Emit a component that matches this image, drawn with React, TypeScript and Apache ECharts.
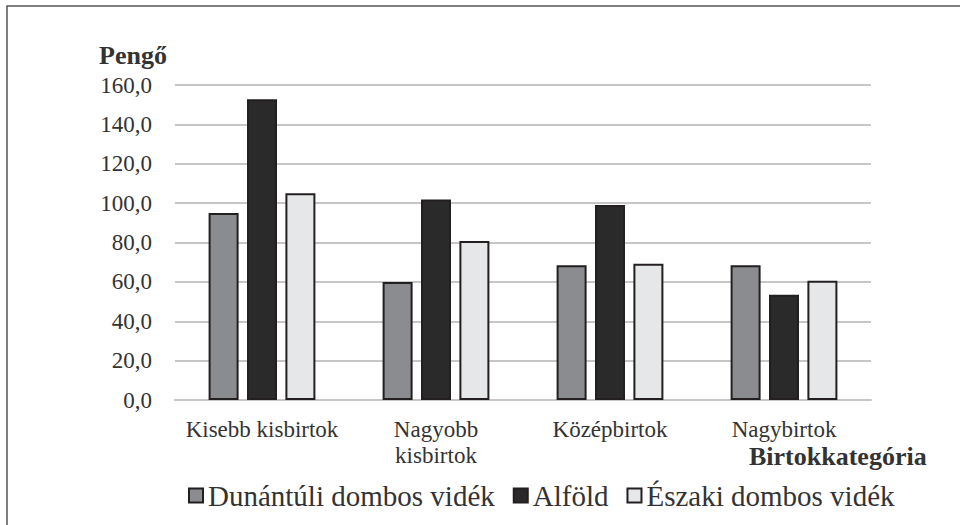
import React, { useEffect, useRef } from "react";
import * as echarts from "echarts";

const categories = ["Kisebb kisbirtok", "Nagyobb\nkisbirtok", "Középbirtok", "Nagybirtok"];
const seriesNames = ["Dunántúli dombos vidék", "Alföld", "Északi dombos vidék"];
const dunantuli = [95.0, 60.0, 68.5, 68.5];
const alfold = [152.8, 101.8, 99.0, 53.5];
const eszaki = [105.0, 80.8, 69.2, 60.6];
const seriesColors = ["#8b8c8f", "#2b2a2b", "#e6e7e9"];
const yTicks = { min: 0, max: 160, interval: 20 };
const yAxisTitle = "Pengő";
const xAxisTitle = "Birtokkategória";

const FONT = "Liberation Serif";

export default function App() {
  const ref = useRef<HTMLDivElement>(null);
  useEffect(() => {
    document.body.style.margin = "0";
    if (!ref.current) return;
    const chart = echarts.init(ref.current, null, { renderer: "svg" });
    const values = [dunantuli, alfold, eszaki];
    chart.setOption({
      animation: false,
      backgroundColor: "#ffffff",
      textStyle: { fontFamily: FONT },
      grid: { left: 175, right: 89, top: 85, bottom: 125, containLabel: false },
      legend: {
        left: 183,
        top: 476,
        itemWidth: 14,
        itemHeight: 14,
        itemGap: 18,
        icon: "rect",
        textStyle: { fontFamily: FONT, fontSize: 29, color: "#333333" },
        data: seriesNames,
      },
      xAxis: {
        type: "category",
        data: categories,
        axisLine: { show: true, lineStyle: { color: "#c6c6c6", width: 2 } },
        axisTick: { show: false },
        axisLabel: {
          fontFamily: FONT,
          fontSize: 23,
          color: "#333333",
          margin: 16,
          lineHeight: 26,
          interval: 0,
        },
      },
      yAxis: {
        type: "value",
        min: yTicks.min,
        max: yTicks.max,
        interval: yTicks.interval,
        axisLine: { show: false },
        axisTick: { show: false },
        splitLine: { lineStyle: { color: "#c6c6c6", width: 2 } },
        axisLabel: {
          fontFamily: FONT,
          fontSize: 23,
          color: "#333333",
          margin: 23,
          formatter: (v: number) => v.toFixed(1).replace(".", ","),
        },
      },
      series: seriesNames.map((name, i) => ({
        name,
        type: "bar",
        data: values[i],
        barWidth: 30,
        barGap: "28%",
        itemStyle: { color: seriesColors[i], borderColor: "#231f20", borderWidth: 2 },
      })),
      graphic: [
        {
          type: "rect",
          shape: { x: 7, y: 6, width: 1200, height: 800 },
          style: { fill: "none", stroke: "#555555", lineWidth: 1.5 },
          silent: true,
        },
        {
          type: "text",
          x: 99,
          y: 55,
          style: {
            text: yAxisTitle,
            fontFamily: FONT,
            fontSize: 26,
            fontWeight: "bold",
            fill: "#333333",
            verticalAlign: "middle",
          },
        },
        {
          type: "text",
          x: 749,
          y: 456,
          style: {
            text: xAxisTitle,
            fontFamily: FONT,
            fontSize: 26,
            fontWeight: "bold",
            fill: "#333333",
            verticalAlign: "middle",
          },
        },
      ],
    });
    return () => chart.dispose();
  }, []);
  return <div ref={ref} style={{ width: 960, height: 525 }} />;
}
